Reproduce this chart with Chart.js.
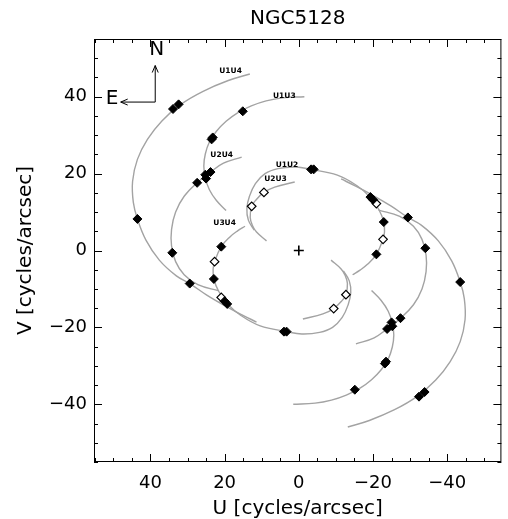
<!DOCTYPE html>
<html>
<head>
<meta charset="utf-8">
<script src="https://cdn.jsdelivr.net/npm/chart.js@4.4.0/dist/chart.umd.min.js"></script>
<style>
  html, body { margin: 0; padding: 0; background: #fff; }
  #wrap { width: 508px; height: 519px; }
</style>
</head>
<body>
<div id="wrap"><canvas id="uvplot"></canvas></div>
<script>
// uv tracks, [U, V] in cycles/arcsec
const trackU1U4 = [[13.2,45.9],[19.0,44.2],[25.8,41.4],[31.8,38.0],[36.9,33.7],[40.8,28.9],[43.5,23.7],[44.8,18.0],[44.6,12.5],[43.5,8.2],[41.2,2.7],[37.6,-2.5],[33.0,-6.6],[29.4,-8.6],[24.8,-11.6],[19.5,-14.6],[15.2,-16.8],[11.4,-18.6]];
const trackU1U4conj = [[-13.2,-45.9],[-19.0,-44.2],[-25.8,-41.4],[-31.8,-38.0],[-36.9,-33.7],[-40.8,-28.9],[-43.5,-23.7],[-44.8,-18.0],[-44.6,-12.5],[-43.5,-8.2],[-41.2,-2.7],[-37.6,2.5],[-33.0,6.6],[-29.4,8.6],[-24.8,11.6],[-19.5,14.6],[-15.2,16.8],[-11.4,18.6]];
const trackU1U3 = [[-1.5,40.0],[4.4,39.7],[8.8,38.9],[12.8,37.6],[16.5,35.8],[19.6,33.6],[22.2,31.0],[24.1,28.2],[25.2,25.1],[25.6,22.0],[25.2,18.9],[24.1,15.8],[22.2,13.0],[19.6,10.4]];
const trackU1U3conj = [[1.5,-40.0],[-4.4,-39.7],[-8.8,-38.9],[-12.8,-37.6],[-16.5,-35.8],[-19.6,-33.6],[-22.2,-31.0],[-24.1,-28.2],[-25.2,-25.1],[-25.6,-22.0],[-25.2,-18.9],[-24.1,-15.8],[-22.2,-13.0],[-19.6,-10.4]];
const trackU2U4 = [[15.4,24.3],[20.3,22.7],[23.8,20.4],[27.4,17.6],[30.9,14.1],[33.2,10.0],[34.3,5.5],[34.3,1.2],[33.2,-2.9],[30.9,-6.3],[27.2,-8.9],[21.5,-10.5]];
const trackU2U4conj = [[-15.4,-24.3],[-20.3,-22.7],[-23.8,-20.4],[-27.4,-17.6],[-30.9,-14.1],[-33.2,-10.0],[-34.3,-5.5],[-34.3,-1.2],[-33.2,2.9],[-30.9,6.3],[-27.2,8.9],[-21.5,10.5]];
const trackU1U2 = [[12.0,5.3],[13.6,7.9],[14.0,11.0],[13.3,14.1],[11.7,17.4],[9.1,20.0],[5.6,21.3],[0.8,21.7],[-3.2,21.1],[-10.4,19.6],[-15.6,16.9],[-19.2,13.9],[-21.6,10.6],[-22.9,7.4],[-23.1,4.9],[-22.7,2.9],[-20.9,-1.0],[-18.5,-3.6],[-16.5,-5.1],[-14.5,-6.3]];
const trackU1U2conj = [[-12.0,-5.3],[-13.6,-7.9],[-14.0,-11.0],[-13.3,-14.1],[-11.7,-17.4],[-9.1,-20.0],[-5.6,-21.3],[-0.8,-21.7],[3.2,-21.1],[10.4,-19.6],[15.6,-16.9],[19.2,-13.9],[21.6,-10.6],[22.9,-7.4],[23.1,-4.9],[22.7,-2.9],[20.9,1.0],[18.5,3.6],[16.5,5.1],[14.5,6.3]];
const trackU2U3 = [[1.1,17.8],[6.5,16.5],[9.4,15.1],[11.5,13.2],[12.7,11.5],[13.1,8.6],[12.5,6.5],[11.4,4.8],[8.7,2.5]];
const trackU2U3conj = [[-1.1,-17.8],[-6.5,-16.5],[-9.4,-15.1],[-11.5,-13.2],[-12.7,-11.5],[-13.1,-8.6],[-12.5,-6.5],[-11.4,-4.8],[-8.7,-2.5]];

// measured points
const filledPoints = [
  [33.9,36.8],[32.4,38.0],[43.5,8.2],[29.4,-8.6],[-33.9,-36.8],[-32.4,-38.0],[-43.5,-8.2],[-29.4,8.6],
  [15.1,36.2],[23.5,28.9],[23.2,29.4],[-15.1,-36.2],[-23.5,-28.9],[-23.2,-29.4],
  [23.8,20.4],[25.2,19.7],[25.0,18.7],[27.4,17.6],[34.1,-0.6],[-23.8,-20.4],[-25.2,-19.7],[-25.0,-18.7],[-27.4,-17.6],[-34.1,0.6],
  [-3.3,21.1],[-4.0,21.1],[-19.3,13.9],[-20.0,13.2],[-22.9,7.4],[-20.9,-1.0],
  [3.3,-21.1],[4.0,-21.1],[19.3,-13.9],[20.0,-13.2],[22.9,-7.4],[20.9,1.0]
];
const openPoints = [[12.7,11.5],[9.4,15.1],[-12.7,-11.5],[-9.4,-15.1],[-20.9,12.2],[-22.7,2.9],[20.9,-12.2],[22.7,-2.9]];

const baselineNames = ['U1U4','U1U3','U2U4','U1U2','U2U3','U3U4'];
const majorTicks = [-40,-20,0,20,40];
const plotTitle = 'NGC5128';

// where things are written (data coords)
const labelAt = [[18.4,46.6],[3.9,40.1],[20.8,24.9],[3.2,22.1],[6.3,18.7],[20.0,7.2]];
const compassAt = {corner:[38.7,38.6], north:48.1, east:48.0, nText:[38.3,52.3], eText:[50.3,39.5]};

function toPts(arr) {
  return arr.map(p => ({x: p[0], y: p[1]}));
}

const allTracks = [trackU1U4, trackU1U4conj, trackU1U3, trackU1U3conj, trackU2U4, trackU2U4conj,
                   trackU1U2, trackU1U2conj, trackU2U3, trackU2U3conj];

let datasets = allTracks.map(t => ({
  data: toPts(t), showLine: true, borderColor: '#a3a3a3', borderWidth: 1.4,
  pointRadius: 0, tension: 0.4, order: 3
}));
datasets.push({data: toPts(filledPoints), pointStyle: 'rectRot', pointRadius: 4.5,
  backgroundColor: '#000', borderColor: '#000', borderWidth: 1, order: 1});
datasets.push({data: toPts(openPoints), pointStyle: 'rectRot', pointRadius: 4.3,
  backgroundColor: '#fff', borderColor: '#000', borderWidth: 1.2, order: 1});
datasets.push({data: [{x: 0, y: 0}], pointStyle: 'cross', pointRadius: 5,
  borderColor: '#000', borderWidth: 1.6, order: 1});

function tickText(v) {
  if (majorTicks.indexOf(v) === -1) return '';
  return v < 0 ? '\u2212' + Math.abs(v) : String(v);
}

// frame, inward ticks, title over the plot box, compass and baseline names
const decor = {
  id: 'decor',
  afterDraw(chart) {
    const ctx = chart.ctx, a = chart.chartArea, sx = chart.scales.x, sy = chart.scales.y;
    ctx.save();
    ctx.strokeStyle = '#000';
    ctx.lineWidth = 1;
    ctx.strokeRect(a.left + 0.5, a.top + 0.5, a.right - a.left - 1, a.bottom - a.top - 1);
    ctx.beginPath();
    sx.ticks.forEach(t => {
      const px = Math.round(sx.getPixelForValue(t.value)) + 0.5;
      const len = t.value % 20 === 0 ? 8 : 4;
      ctx.moveTo(px, a.bottom); ctx.lineTo(px, a.bottom - len);
      ctx.moveTo(px, a.top); ctx.lineTo(px, a.top + len);
    });
    sy.ticks.forEach(t => {
      const py = Math.round(sy.getPixelForValue(t.value)) + 0.5;
      const len = t.value % 20 === 0 ? 8 : 4;
      ctx.moveTo(a.left, py); ctx.lineTo(a.left + len, py);
      ctx.moveTo(a.right, py); ctx.lineTo(a.right - len, py);
    });
    ctx.stroke();

    ctx.fillStyle = '#000';
    ctx.textAlign = 'center';
    ctx.textBaseline = 'middle';
    ctx.font = '20px "DejaVu Sans"';
    ctx.fillText(plotTitle, (a.left + a.right) / 2, a.top - 20);

    // compass
    const cx = sx.getPixelForValue(compassAt.corner[0]), cy = sy.getPixelForValue(compassAt.corner[1]);
    const ny = sy.getPixelForValue(compassAt.north), ex = sx.getPixelForValue(compassAt.east);
    ctx.beginPath();
    ctx.moveTo(cx, cy); ctx.lineTo(cx, ny);
    ctx.moveTo(cx - 3, ny + 7); ctx.lineTo(cx, ny); ctx.lineTo(cx + 3, ny + 7);
    ctx.moveTo(cx, cy); ctx.lineTo(ex, cy);
    ctx.moveTo(ex + 7, cy - 3); ctx.lineTo(ex, cy); ctx.lineTo(ex + 7, cy + 3);
    ctx.stroke();
    ctx.fillText('N', sx.getPixelForValue(compassAt.nText[0]), sy.getPixelForValue(compassAt.nText[1]));
    ctx.fillText('E', sx.getPixelForValue(compassAt.eText[0]), sy.getPixelForValue(compassAt.eText[1]));

    ctx.font = 'bold 7.5px "DejaVu Sans"';
    baselineNames.forEach((n, i) => {
      ctx.fillText(n, sx.getPixelForValue(labelAt[i][0]), sy.getPixelForValue(labelAt[i][1]));
    });
    ctx.restore();
  }
};

const axisFont = {family: '"DejaVu Sans"', size: 18};
const titleFont = {family: '"DejaVu Sans"', size: 20, weight: 'normal', lineHeight: 1.0};

new Chart(document.getElementById('uvplot').getContext('2d'), {
  type: 'scatter',
  data: {datasets: datasets},
  options: {
    responsive: true,
    maintainAspectRatio: false,
    animation: false,
    layout: {padding: {top: 39, right: 3, bottom: 0, left: 0}},
    plugins: {
      legend: {display: false},
      tooltip: {enabled: false},
      title: {display: false}
    },
    scales: {
      x: {
        type: 'linear', min: -54.6, max: 55.2, reverse: true,
        grid: {display: false, drawTicks: false},
        border: {display: false},
        ticks: {stepSize: 5, autoSkip: false, maxRotation: 0, includeBounds: false,
                padding: 11, color: '#000', font: axisFont, callback: v => tickText(v)},
        title: {display: true, text: 'U [cycles/arcsec]', color: '#000', font: titleFont, padding: {top: 0, bottom: 0}},
        afterFit: s => { s.height = 57; }
      },
      y: {
        type: 'linear', min: -55, max: 55,
        grid: {display: false, drawTicks: false},
        border: {display: false},
        ticks: {stepSize: 5, autoSkip: false, includeBounds: false,
                padding: 7, color: '#000', font: axisFont, callback: v => tickText(v)},
        title: {display: true, text: 'V [cycles/arcsec]', color: '#000', font: titleFont, padding: {top: 16, bottom: 0}},
        afterFit: s => { s.width = 94; }
      }
    }
  },
  plugins: [decor]
});
</script>
</body>
</html>
